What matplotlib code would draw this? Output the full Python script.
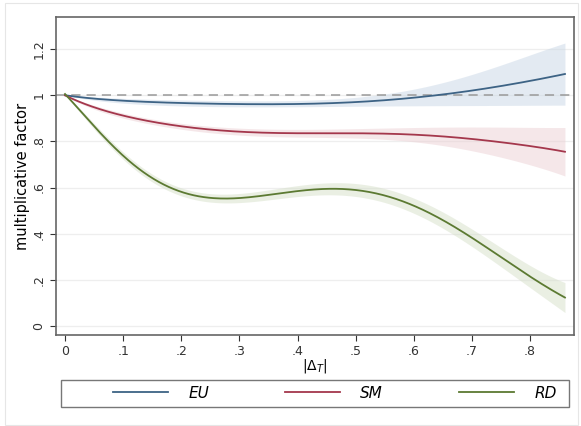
import numpy as np
import matplotlib.pyplot as plt
from matplotlib.patches import Rectangle

# values
x = [0, 0.03, 0.06, 0.09, 0.12, 0.15, 0.2, 0.25, 0.3, 0.35, 0.4, 0.45, 0.5,
     0.55, 0.6, 0.65, 0.7, 0.75, 0.8, 0.86]

eu = [1.0, 0.99, 0.983, 0.978, 0.974, 0.97, 0.966, 0.963, 0.962, 0.961, 0.962,
      0.965, 0.97, 0.978, 0.99, 1.003, 1.02, 1.04, 1.062, 1.092]
eu_lo = [1.0, 0.985, 0.975, 0.968, 0.963, 0.958, 0.953, 0.95, 0.95, 0.95, 0.95,
         0.951, 0.952, 0.953, 0.954, 0.955, 0.955, 0.956, 0.956, 0.957]
eu_hi = [1.0, 0.995, 0.991, 0.988, 0.985, 0.982, 0.979, 0.977, 0.976, 0.976, 0.978,
         0.982, 0.99, 1.005, 1.027, 1.055, 1.09, 1.13, 1.175, 1.226]

sm = [1.0, 0.965, 0.94, 0.918, 0.9, 0.886, 0.865, 0.85, 0.842, 0.838, 0.836,
      0.835, 0.834, 0.833, 0.83, 0.822, 0.81, 0.796, 0.78, 0.755]
sm_lo = [1.0, 0.958, 0.931, 0.908, 0.889, 0.874, 0.852, 0.836, 0.827, 0.822, 0.819,
         0.817, 0.814, 0.808, 0.798, 0.782, 0.76, 0.731, 0.698, 0.65]
sm_hi = [1.0, 0.972, 0.949, 0.928, 0.911, 0.898, 0.878, 0.864, 0.857, 0.854, 0.853,
         0.853, 0.854, 0.857, 0.861, 0.862, 0.862, 0.861, 0.861, 0.86]

rd = [1.0, 0.935, 0.834, 0.755, 0.692, 0.645, 0.583, 0.557, 0.555, 0.566, 0.583,
      0.593, 0.59, 0.567, 0.525, 0.455, 0.38, 0.3, 0.215, 0.123]
rd_lo = [1.0, 0.925, 0.82, 0.74, 0.677, 0.628, 0.565, 0.538, 0.535, 0.545, 0.56,
         0.567, 0.562, 0.536, 0.492, 0.42, 0.343, 0.258, 0.167, 0.058]
rd_hi = [1.0, 0.945, 0.848, 0.77, 0.707, 0.662, 0.601, 0.576, 0.575, 0.587, 0.606,
         0.619, 0.618, 0.598, 0.558, 0.49, 0.417, 0.342, 0.263, 0.188]

labels = ['EU', 'SM', 'RD']
colors = ['#3d6385', '#a4374c', '#5c7a32']
fills = ['#c9d7e6', '#ecd0d4', '#d6e0c9']

xs = np.linspace(0, 0.86, 300)


def smooth(vals):
    # smooth curve through the read points
    coef = np.polyfit(x, vals, 7)
    return np.polyval(coef, xs)


fig = plt.figure(figsize=(5.81, 4.26), dpi=100)
fig.patches.append(Rectangle((0.009, 0.002), 0.985, 0.99, transform=fig.transFigure,
                             fill=False, edgecolor='#e6e6e6', lw=0.8))
ax = fig.add_axes([0.0964, 0.2136, 0.892, 0.746])

series = [(eu, eu_lo, eu_hi), (sm, sm_lo, sm_hi), (rd, rd_lo, rd_hi)]
handles = []
for (mid, lo, hi), lab, c, fc in zip(series, labels, colors, fills):
    ax.fill_between(xs, smooth(lo), smooth(hi), color=fc, alpha=0.5, lw=0)
    h, = ax.plot(xs, smooth(mid), color=c, lw=1.3, label=lab)
    handles.append(h)

ax.axhline(1, color='#999999', lw=1.1, ls=(0, (6, 4)), zorder=1)

ax.set_xlim(-0.0155, 0.876)
ax.set_ylim(-0.039, 1.338)
ax.set_xticks(np.arange(0, 0.81, 0.1))
ax.set_xticklabels(['0', '.1', '.2', '.3', '.4', '.5', '.6', '.7', '.8'])
ax.set_yticks([0, 0.2, 0.4, 0.6, 0.8, 1.0, 1.2])
ax.set_yticklabels(['0', '.2', '.4', '.6', '.8', '1', '1.2'], rotation=90, va='center')
ax.yaxis.grid(True, color='#eeeeee', lw=0.9)
ax.set_axisbelow(True)
ax.tick_params(direction='out', length=4, labelsize=9, colors='#333333')
for s in ax.spines.values():
    s.set_color('#666666')
    s.set_linewidth(1.2)

ax.set_xlabel(r'$|\Delta_T|$', fontsize=10, labelpad=-1)
ax.set_ylabel('multiplicative factor', fontsize=10.5, labelpad=2)

# legend frame drawn on its own, entries placed inside it
fig.patches.append(Rectangle((61 / 581, 1 - 407 / 426), 508 / 581, 27 / 426,
                             transform=fig.transFigure, fill=False,
                             edgecolor='#777777', lw=1.0))
leg = fig.legend(handles=handles, loc='center', ncol=3, frameon=False,
                 bbox_to_anchor=(335 / 581, 1 - 393 / 426),
                 prop={'style': 'italic', 'size': 11}, handlelength=3.6,
                 handletextpad=1.3, columnspacing=5.0)
for h in leg.legend_handles:
    h.set_linewidth(1.3)

plt.savefig('out.png', dpi=100)
